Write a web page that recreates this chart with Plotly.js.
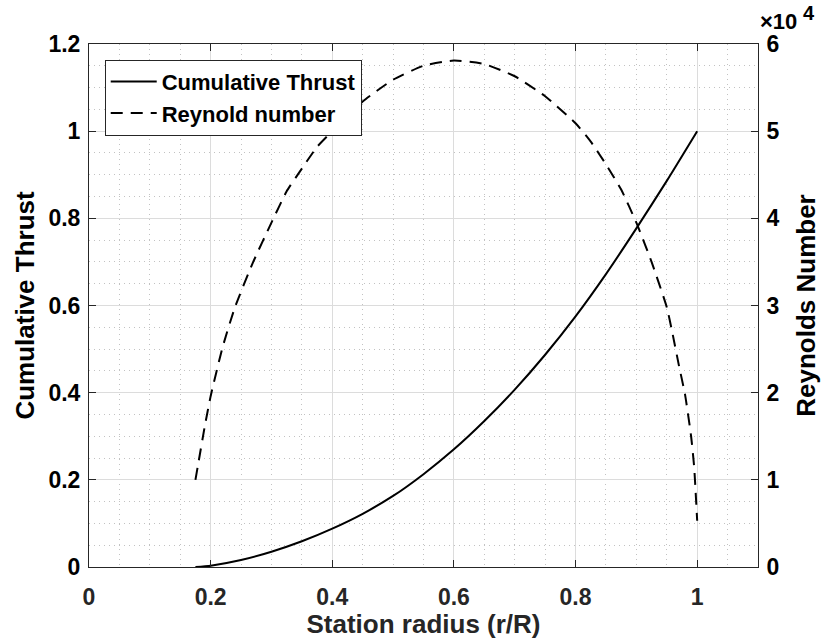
<!DOCTYPE html>
<html>
<head>
<meta charset="utf-8">
<script src="https://cdn.plot.ly/plotly-3.0.1.min.js"></script>
<style>html,body{margin:0;padding:0;background:#fff;}#chart{width:821px;height:639px;}</style>
</head>
<body>
<div id="chart"></div>
<script>
// Cumulative thrust (left axis)
const rThrust = [0.175,0.2,0.25,0.3,0.35,0.4,0.45,0.5,0.55,0.6,0.65,0.7,0.75,0.8,0.85,0.9,0.95,1.0];
const thrust  = [0,0.003,0.016,0.035,0.059,0.088,0.122,0.163,0.213,0.27,0.335,0.407,0.487,0.575,0.672,0.777,0.886,1.0];

// Reynolds number (right axis)
const rRe = [0.175,0.18,0.19,0.2,0.22,0.24,0.27,0.3,0.325,0.35,0.375,0.4,0.45,0.5,0.55,0.6,0.65,0.7,0.75,0.8,0.825,0.85,0.875,0.9,0.925,0.95,0.96,0.97,0.98,0.99,0.995,1.0];
const reynolds = [10000,12000,16000,19600,25300,29800,35000,39500,43100,45700,48200,50000,53400,55900,57500,58100,57700,56300,54000,50900,48800,46200,43300,39500,35000,29800,26600,23100,19800,15000,11500,5300];

// Tick labels
const xTickVals = [0,0.2,0.4,0.6,0.8,1.0];
const xTickText = ["0","0.2","0.4","0.6","0.8","1"];
const yTickVals = [0,0.2,0.4,0.6,0.8,1.0,1.2];
const yTickText = ["0","0.2","0.4","0.6","0.8","1","1.2"];
const y2TickVals = [0,10000,20000,30000,40000,50000,60000];
const y2TickText = ["0","1","2","3","4","5","6"];
const expBase = "×10";
const expPower = "4";

const FONT = "Liberation Sans, Arial, Helvetica, sans-serif";
const AX = "#262626";

const traces = [
  {x: rThrust, y: thrust, name: "Cumulative Thrust", type: "scatter", mode: "lines",
   line: {color: "#000", width: 2, shape: "spline", smoothing: 0.6}, yaxis: "y"},
  {x: rRe, y: reynolds, name: "Reynold number", type: "scatter", mode: "lines",
   line: {color: "#000", width: 2, dash: "12px,8px", shape: "spline", smoothing: 0.5}, yaxis: "y2"}
];

const minorGrid = {showgrid: true, griddash: "1px,4px", gridcolor: "#c2c2c2", gridwidth: 1, ticks: ""};

const layout = {
  width: 821, height: 639,
  margin: {l: 89, r: 63, t: 44, b: 72, pad: 0},
  paper_bgcolor: "#fff", plot_bgcolor: "#fff",
  font: {family: FONT, color: AX, size: 23, weight: "bold"},
  showlegend: true,
  legend: {x: 0.0235, y: 0.97, xanchor: "left", yanchor: "top",
    bgcolor: "#fff", bordercolor: "#262626", borderwidth: 1,
    font: {family: FONT, size: 22, color: "#000", weight: "bold"},
    tracegroupgap: 0, itemwidth: 46},
  xaxis: {range: [0, 1.1], tickmode: "array", tickvals: xTickVals, ticktext: xTickText,
    showline: true, linecolor: AX, linewidth: 1, mirror: "ticks",
    ticks: "inside", ticklen: 7, tickcolor: AX, ticklabelstandoff: 9,
    showgrid: true, gridcolor: "#dcdcdc", gridwidth: 1, zeroline: false,
    minor: Object.assign({dtick: 0.05, tick0: 0}, minorGrid),
    tickfont: {family: FONT, size: 23, color: AX, weight: "bold"},
    title: {text: "Station radius (r/R)", font: {family: FONT, size: 26, color: AX, weight: "bold"}, standoff: 12}},
  yaxis: {range: [0, 1.2], tickmode: "array", tickvals: yTickVals, ticktext: yTickText,
    showline: true, linecolor: AX, linewidth: 1,
    ticks: "inside", ticklen: 7, tickcolor: AX, ticklabelstandoff: 3,
    showgrid: true, gridcolor: "#dcdcdc", gridwidth: 1, zeroline: false,
    minor: Object.assign({dtick: 0.05, tick0: 0}, minorGrid),
    tickfont: {family: FONT, size: 23, color: "#000", weight: "bold"},
    title: {text: "Cumulative Thrust", font: {family: FONT, size: 26, color: "#000", weight: "bold"}, standoff: 6}},
  yaxis2: {range: [0, 60000], overlaying: "y", side: "right", tickmode: "array",
    tickvals: y2TickVals, ticktext: y2TickText,
    showline: true, linecolor: AX, linewidth: 1,
    ticks: "inside", ticklen: 7, tickcolor: AX, ticklabelstandoff: 3,
    showgrid: false, zeroline: false,
    tickfont: {family: FONT, size: 23, color: "#000", weight: "bold"},
    title: {text: "Reynolds Number", font: {family: FONT, size: 26, color: "#000", weight: "bold"}, standoff: 18}},
  annotations: [
    {xref: "paper", yref: "paper", x: 1.0, y: 1.0, xanchor: "left", yanchor: "bottom",
     xshift: 1, yshift: 9, showarrow: false, borderpad: 0,
     text: expBase, font: {family: FONT, size: 22, color: "#000", weight: "bold"}},
    {xref: "paper", yref: "paper", x: 1.0, y: 1.0, xanchor: "left", yanchor: "bottom",
     xshift: 44, yshift: 19, showarrow: false, borderpad: 0,
     text: expPower, font: {family: FONT, size: 20, color: "#000", weight: "bold"}}
  ]
};

Plotly.newPlot("chart", traces, layout, {displayModeBar: false, staticPlot: true});
</script>
</body>
</html>
